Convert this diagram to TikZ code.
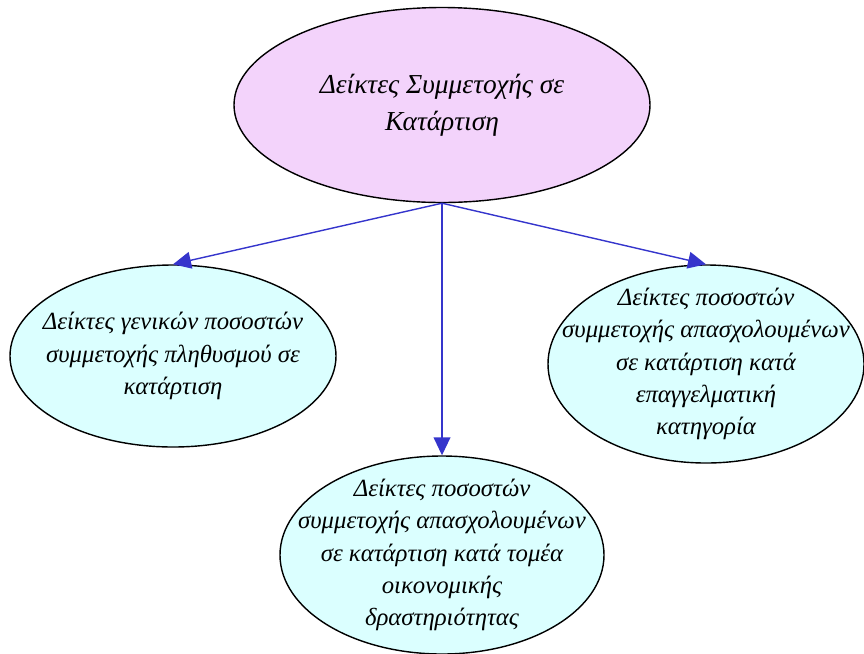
\documentclass[tikz,border=0pt]{standalone}
\usepackage{fontspec}
\setmainfont{Liberation Serif}
\usetikzlibrary{shapes.geometric,arrows.meta}
\definecolor{rootfill}{HTML}{F3D3FB}
\definecolor{leaffill}{HTML}{DBFFFF}
\definecolor{linkblue}{HTML}{3535CC}
\tikzset{
  blob/.style={ellipse,draw=black,line width=1pt,inner xsep=-1.5cm,inner ysep=-1.2cm,
    align=center,font=\itshape\fontsize{17.6}{23}\selectfont},
  link/.style={draw=linkblue,line width=1pt,-{Triangle[length=0.45cm,width=0.42cm]}}
}
\begin{document}
\begin{tikzpicture}
\useasboundingbox (0,0) rectangle (21.6,-16.325);
\node[blob,fill=rootfill,minimum width=10.4cm,minimum height=4.875cm,
  font=\itshape\fontsize{19.5}{26}\selectfont] (root) at (11.05,-2.625)
  {Δείκτες Συμμετοχής σε\\Κατάρτιση};
\node[blob,fill=leaffill,minimum width=8.15cm,minimum height=4.55cm] (general) at (4.325,-8.9)
  {Δείκτες γενικών ποσοστών\\συμμετοχής πληθυσμού σε\\κατάρτιση};
\node[blob,fill=leaffill,minimum width=7.9cm,minimum height=4.95cm] (occupation) at (17.65,-9.1)
  {Δείκτες ποσοστών\\συμμετοχής απασχολουμένων\\σε κατάρτιση κατά\\επαγγελματική\\κατηγορία};
\node[blob,fill=leaffill,minimum width=8.1cm,minimum height=4.95cm] (sector) at (11.05,-13.875)
  {Δείκτες ποσοστών\\συμμετοχής απασχολουμένων\\σε κατάρτιση κατά τομέα\\οικονομικής\\δραστηριότητας};

\draw[link] (root.south) -- (general.north);
\draw[link] (root.south) -- (sector.north);
\draw[link] (root.south) -- (occupation.north);
\end{tikzpicture}
\end{document}
